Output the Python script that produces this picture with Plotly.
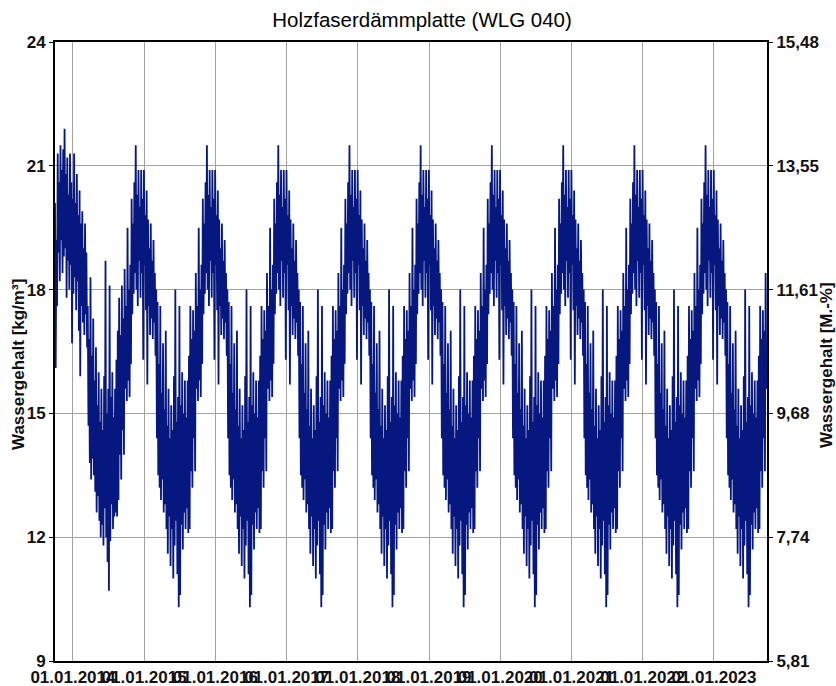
import pandas as pd
import plotly.graph_objects as go

# Wassergehalt [kg/m³]: per week one high and one low reading (3.5 days apart),
# every season running from 1 October to the end of September.
season_2013_14 = [
    20.1, 16.1, 19.2, 17.6, 21.3, 18.9, 20.6, 18.2, 21.5, 19.2,   # Oct
    20.9, 18.4, 21.4, 18.8, 21.9, 19.0, 20.8, 17.8,               # Nov
    21.2, 18.7, 20.3, 18.0, 21.3, 18.6, 20.6, 16.7, 20.2, 17.9,   # Dec
    21.3, 18.3, 20.1, 17.5, 20.8, 18.2, 19.8, 17.0,               # Jan
    20.4, 15.9, 19.6, 17.6, 19.9, 17.2, 19.0, 16.9,               # Feb
    19.6, 17.4, 18.9, 16.6, 17.6, 14.7, 16.8, 13.8,               # Mar
    18.3, 13.4, 16.4, 13.9, 17.3, 13.5, 15.8, 13.1, 16.6, 12.6,   # Apr
    15.2, 13.0, 16.0, 12.4, 14.8, 12.0, 15.6, 12.3,               # May
    14.6, 11.8, 15.9, 12.7, 18.7, 12.0, 15.0, 11.4,               # Jun
    15.6, 10.7, 18.1, 11.9, 15.4, 12.8, 16.0, 12.2, 14.9, 12.5,   # Jul
    15.6, 12.6, 16.3, 12.5, 17.0, 12.9, 17.8, 14.0,               # Aug
    16.9, 13.4, 18.1, 14.6, 17.3, 14.0, 18.5, 15.6,               # Sep
]

# Climate reference year, used for the seasons 2014/15 to 2022/23
reference_year = [
    17.6, 15.3, 19.5, 15.8, 18.0, 15.4, 18.6, 16.2, 20.2, 17.4,   # Oct
    19.6, 17.9, 20.6, 18.4, 21.5, 18.0, 20.3, 17.6,               # Nov
    20.9, 18.7, 20.0, 17.8, 20.9, 18.4, 20.2, 16.3, 20.9, 18.6,   # Dec
    19.8, 17.5, 20.4, 15.7, 19.7, 17.6, 19.0, 16.9,               # Jan
    19.6, 17.3, 18.7, 16.8, 19.2, 17.2, 18.4, 16.4,               # Feb
    18.0, 14.4, 17.7, 13.5, 16.2, 13.2, 17.6, 12.9,               # Mar
    15.5, 13.4, 16.7, 12.6, 15.1, 12.8, 17.0, 12.2, 14.7, 11.6,   # Apr
    15.6, 12.5, 14.4, 11.3, 15.2, 12.2, 14.6, 11.0,               # May
    15.9, 11.8, 18.0, 12.4, 14.8, 11.1, 15.4, 10.3,               # Jun
    17.6, 10.6, 15.2, 12.3, 16.0, 11.7, 15.0, 12.6, 15.8, 12.2,   # Jul
    14.9, 12.7, 15.8, 12.1, 16.4, 12.2, 17.6, 13.6,               # Aug
    16.8, 13.2, 17.5, 14.4, 17.0, 13.6, 18.4, 15.6,               # Sep
]

season_values = {
    2013: season_2013_14,
    2014: reference_year,
    2015: reference_year,
    2016: reference_year,
    2017: reference_year,
    2018: reference_year,
    2019: reference_year,
    2020: reference_year,
    2021: reference_year,
    2022: reference_year,
}

left_tickvals = [9, 12, 15, 18, 21, 24]
right_ticktext = ["5,81", "7,74", "9,68", "11,61", "13,55", "15,48"]

title_text = "Holzfaserdämmplatte (WLG 040)"
left_title = "Wassergehalt [kg/m³]"
right_title = "Wassergehalt [M.-%]"

x_start, x_end = "2013-10-01", "2023-09-30"

# time stamps: seasons start on 1 October, readings every 84 hours
times, values = [], []
for year, vals in season_values.items():
    start = pd.Timestamp(f"{year}-10-01")
    for i, v in enumerate(vals):
        times.append(start + pd.Timedelta(hours=84 * i))
        values.append(v)

W, H = 836, 686
ML, MR, MT, MB = 55, 69, 42, 25
FONT = "Liberation Sans, Arial, sans-serif"
LINE_COLOR = "#06187f"
GRID = "#a3a3a3"
TICK_FONT = dict(size=17, family=FONT, color="#111", weight="bold")

fig = go.Figure()
fig.add_trace(go.Scatter(
    x=times, y=values, mode="lines",
    line=dict(color=LINE_COLOR, width=1.8),
    showlegend=False, hoverinfo="x+y",
))
# invisible companion trace so the right-hand (M.-%) axis is drawn
fig.add_trace(go.Scatter(
    x=times[:2], y=values[:2], mode="lines", yaxis="y2",
    line=dict(color="rgba(0,0,0,0)", width=0),
    showlegend=False, hoverinfo="skip",
))

fig.update_layout(
    width=W, height=H,
    margin=dict(l=ML, r=MR, t=MT, b=MB, pad=0, autoexpand=False),
    paper_bgcolor="white", plot_bgcolor="white",
    font=dict(family=FONT, color="black"),
    title=dict(
        text=title_text, x=422 / W, xanchor="center",
        y=1 - 20 / H, yanchor="middle", yref="container",
        font=dict(size=20.5, family=FONT, color="black"),
        automargin=False,
    ),
    xaxis=dict(
        type="date", range=[x_start, x_end],
        tick0="2014-01-01", dtick="M12", tickformat="%d.%m.%Y",
        tickangle=0, ticks="", automargin=False,
        tickfont=dict(size=17, family=FONT, color="#111", weight="bold"),
        showgrid=True, gridcolor=GRID, gridwidth=1,
        showline=True, linecolor="black", linewidth=2, mirror=True,
        zeroline=False,
    ),
    yaxis=dict(
        range=[9, 24], tickvals=left_tickvals,
        ticktext=[str(v) for v in left_tickvals],
        ticks="outside", ticklen=4, tickcolor="black", tickwidth=1,
        tickfont=TICK_FONT, automargin=False,
        showgrid=True, gridcolor=GRID, gridwidth=1,
        showline=True, linecolor="black", linewidth=2,
        zeroline=False,
    ),
    yaxis2=dict(
        range=[9, 24], tickvals=left_tickvals, ticktext=right_ticktext,
        overlaying="y", side="right",
        ticks="outside", ticklen=4, tickcolor="black", tickwidth=1,
        tickfont=TICK_FONT, automargin=False,
        showgrid=False,
        showline=True, linecolor="black", linewidth=2,
        zeroline=False,
    ),
    annotations=[
        dict(text=left_title, textangle=-90, xref="paper", yref="paper",
             x=(18 - ML) / (W - ML - MR), y=(H - MB - 365) / (H - MT - MB),
             xanchor="center", yanchor="middle", showarrow=False,
             font=dict(size=17, family=FONT, color="#111", weight="bold")),
        dict(text=right_title, textangle=-90, xref="paper", yref="paper",
             x=(826 - ML) / (W - ML - MR), y=(H - MB - 365) / (H - MT - MB),
             xanchor="center", yanchor="middle", showarrow=False,
             font=dict(size=17, family=FONT, color="#111", weight="bold")),
    ],
)

fig.write_html("out.html")
